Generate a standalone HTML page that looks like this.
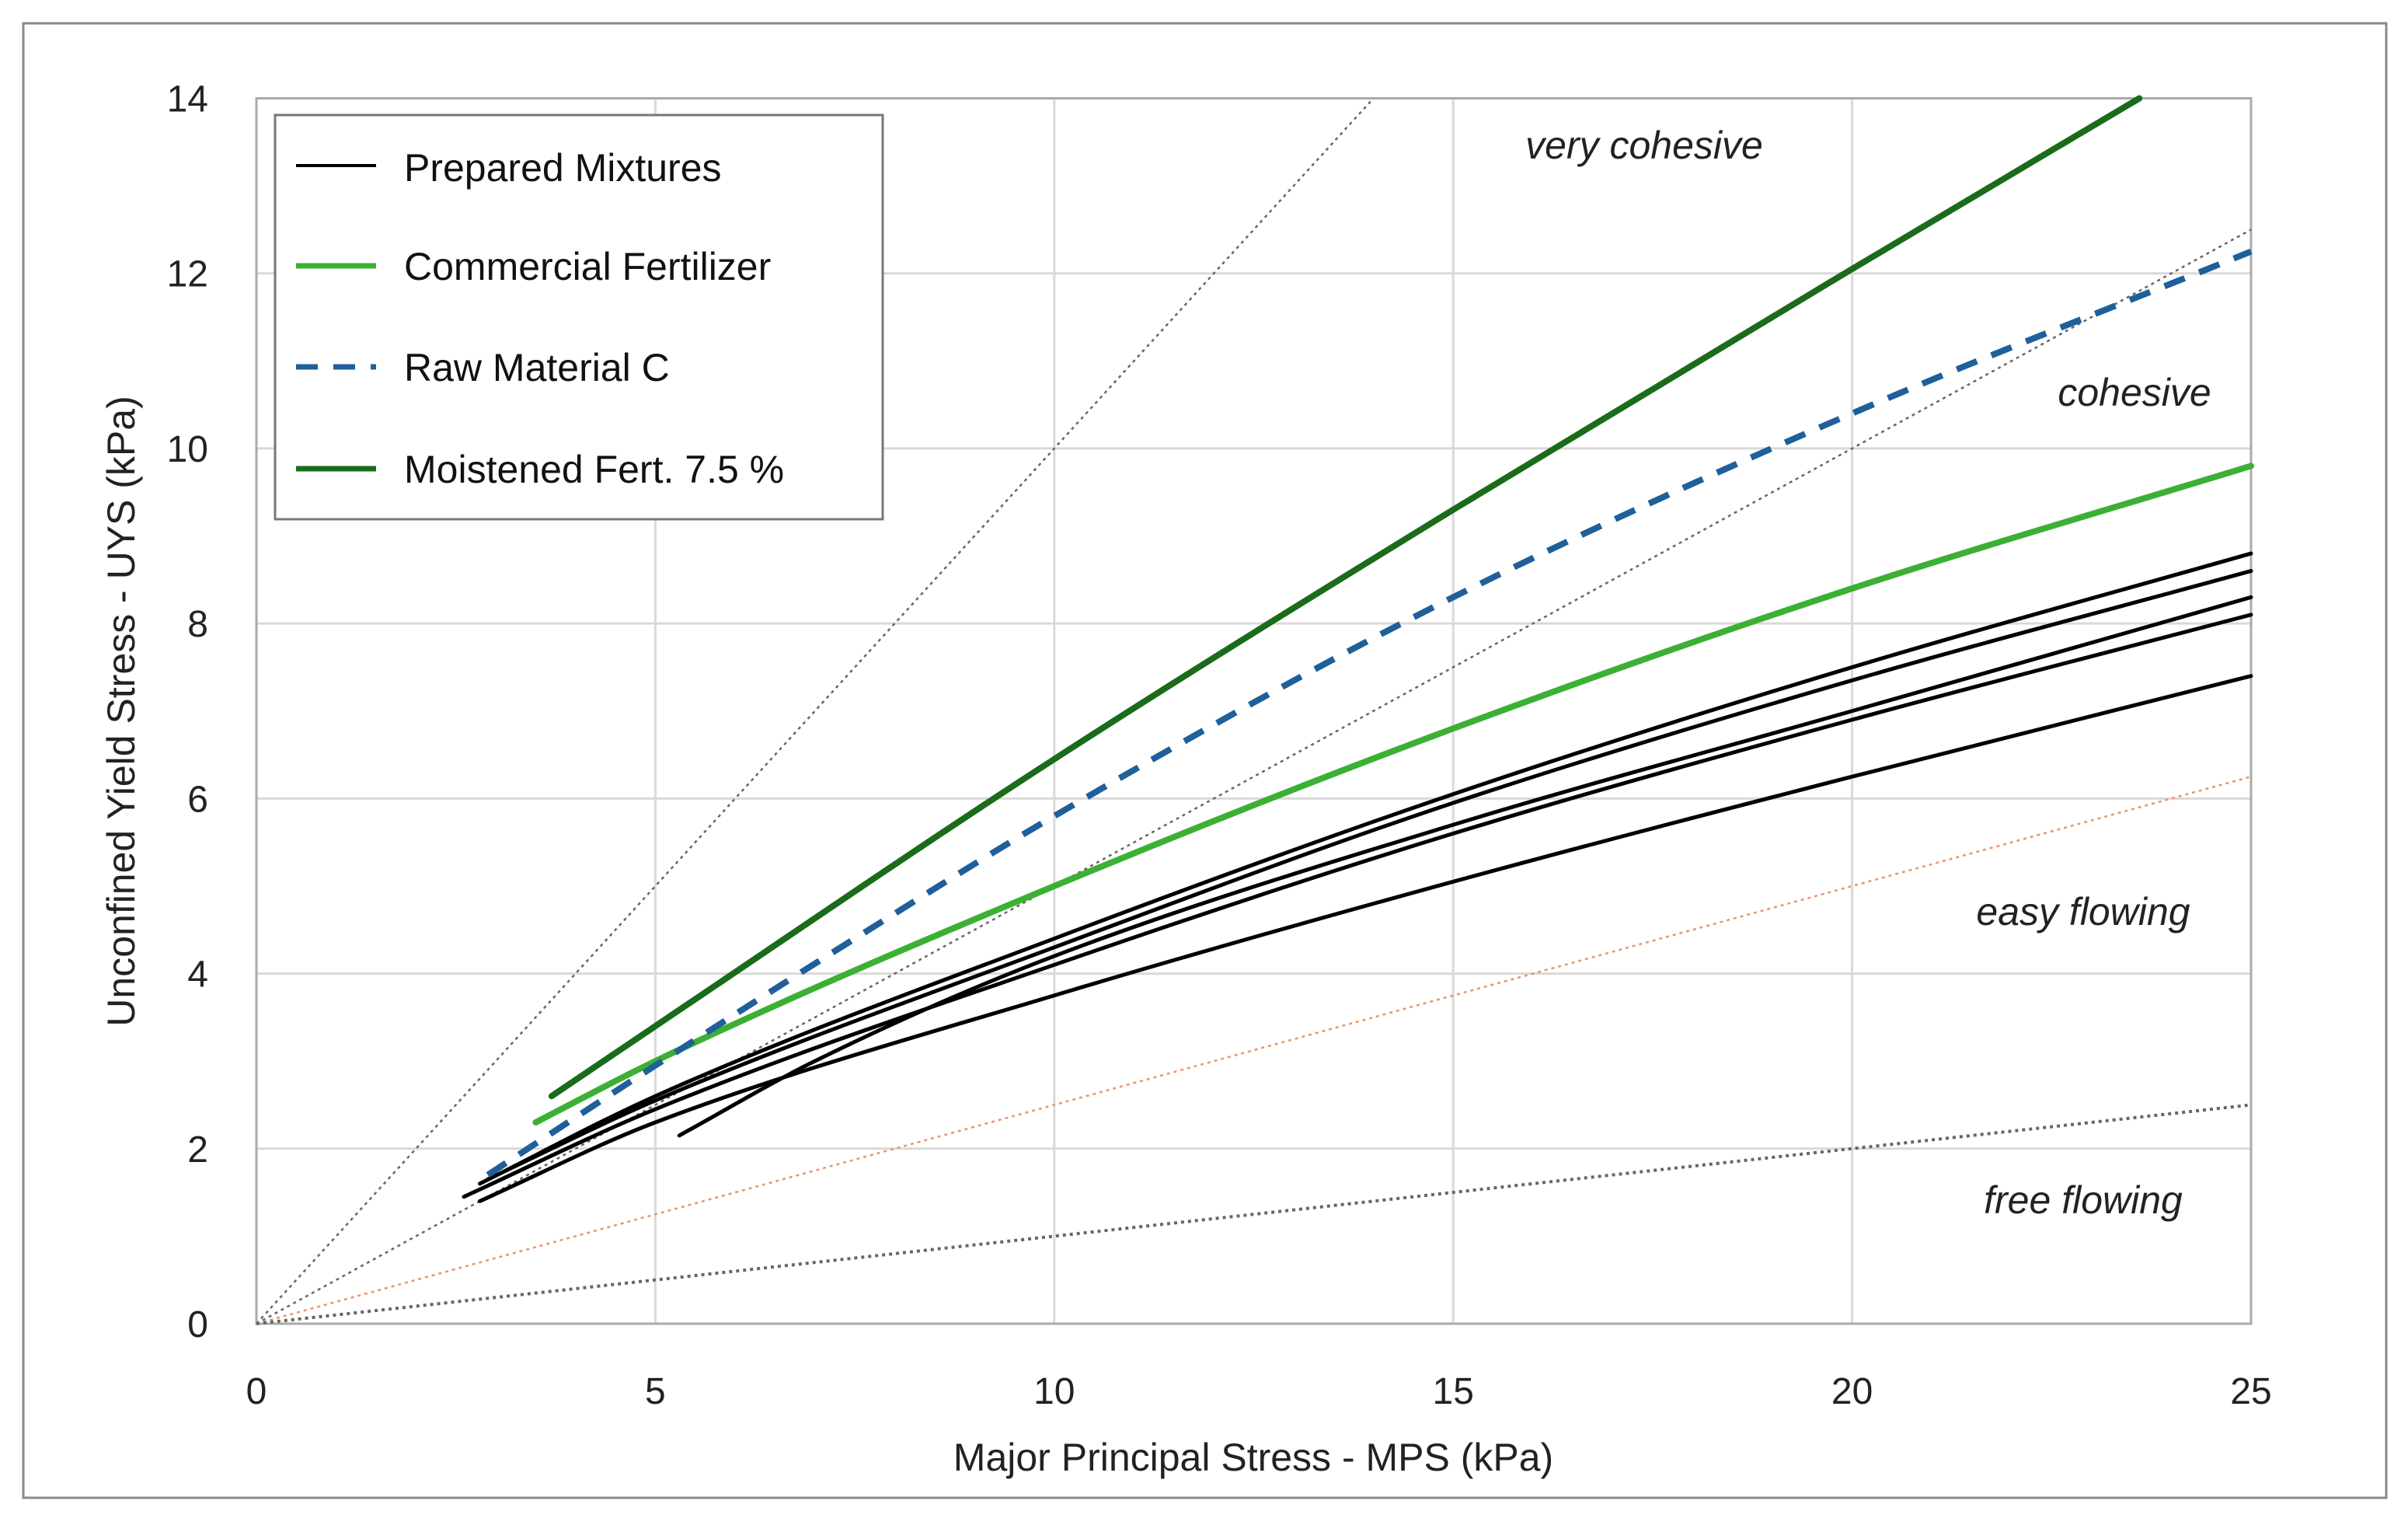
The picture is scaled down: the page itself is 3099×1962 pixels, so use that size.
<!DOCTYPE html>
<html><head><meta charset="utf-8"><style>
html,body{margin:0;padding:0;background:#fff;}
svg{display:block;font-family:"Liberation Sans",sans-serif;}
</style></head><body>
<svg id="chart" width="3099" height="1962" viewBox="0 0 3099 1962">
<rect x="30" y="30" width="3041" height="1897" fill="#fff" stroke="#8a8a8a" stroke-width="3"/>
<g id="grid"></g>
<g id="refs"></g>
<g id="series"></g>
<g id="axes"></g>
<g font-style="italic" font-size="50" fill="#222" text-anchor="middle">
<text x="2116" y="204">very cohesive</text>
<text x="2747" y="522">cohesive</text>
<text x="2681" y="1190">easy flowing</text>
<text x="2681" y="1561">free flowing</text>
</g>
<g>
<rect x="354" y="148" width="782" height="520" fill="#fff" stroke="#777" stroke-width="3"/>
<g><line x1="381" y1="213" x2="484" y2="213" stroke="#000" stroke-width="4"/><text x="520" y="233" font-size="50" fill="#111">Prepared Mixtures</text></g>
<g><line x1="381" y1="342" x2="484" y2="342" stroke="#3cb034" stroke-width="7"/><text x="520" y="360" font-size="50" fill="#111">Commercial Fertilizer</text></g>
<g><line x1="381" y1="472" x2="484" y2="472" stroke="#1f5f9a" stroke-width="7" stroke-dasharray="28,20"/><text x="520" y="490" font-size="50" fill="#111">Raw Material C</text></g>
<g><line x1="381" y1="603" x2="484" y2="603" stroke="#1a6b1a" stroke-width="7"/><text x="520" y="621" font-size="50" fill="#111">Moistened Fert. 7.5 %</text></g>
</g>
</svg>
<script>
const xTicks=[0,5,10,15,20,25];
const yTicks=[0,2,4,6,8,10,12,14];
const moistX=[3.7,5,10,15,20,23.6];
const moistY=[2.6,3.4,6.45,9.3,12.05,14];
const rawX=[2.9,5,7.5,10,15,20,25];
const rawY=[1.7,2.95,4.4,5.8,8.3,10.4,12.25];
const commX=[3.5,5,10,15,20,25];
const commY=[2.3,3.0,5.0,6.8,8.4,9.8];
const prepAX=[2.8,5,10,15,20,25];
const prepAY=[1.6,2.6,4.4,6.05,7.5,8.8];
const prepBX=[2.9,5,10,15,20,25];
const prepBY=[1.65,2.55,4.3,5.95,7.35,8.6];
const prepCX=[5.3,7,10,15,20,25];
const prepCY=[2.15,3.0,4.2,5.7,7.0,8.3];
const prepDX=[2.6,5,10,15,20,25];
const prepDY=[1.45,2.45,4.1,5.6,6.9,8.1];
const prepEX=[2.8,5,10,15,20,25];
const prepEY=[1.4,2.3,3.75,5.05,6.25,7.4];
const refSlopes=[1,0.5,0.25,0.1];

const X0=330,X1=2897,Y0=1703,Y1=126.5;
const sx=v=>X0+(X1-X0)*v/25;
const sy=v=>Y0-(Y0-Y1)*v/14;
const NS='http://www.w3.org/2000/svg';
function mk(tag,attrs,parent){const e=document.createElementNS(NS,tag);for(const k in attrs)e.setAttribute(k,attrs[k]);parent.appendChild(e);return e;}
const grid=document.getElementById('grid'),axes=document.getElementById('axes'),refs=document.getElementById('refs'),ser=document.getElementById('series');

yTicks.forEach(t=>{
 const l=mk('line',{x1:X0,x2:X1,y1:sy(t),y2:sy(t),stroke:'#d9d9d9','stroke-width':3},grid);
 
 
 const tx=mk('text',{x:268,y:sy(t)+17,'font-size':48,'text-anchor':'end',fill:'#222'},axes);
 tx.textContent=t;
 
 
});
xTicks.forEach(t=>{
 const l=mk('line',{x1:sx(t),x2:sx(t),y1:Y1,y2:Y0,stroke:'#d9d9d9','stroke-width':3},grid);
 
 
 const tx=mk('text',{x:sx(t),y:1806,'font-size':48,'text-anchor':'middle',fill:'#222'},axes);
 tx.textContent=t;
 
 
});
const fr=mk('rect',{x:X0,y:Y1,width:X1-X0,height:Y0-Y1,fill:'none',stroke:'#aaa','stroke-width':3},grid);


const xt=mk('text',{x:1613,y:1892,'font-size':50,'text-anchor':'middle',fill:'#222'},axes);
xt.textContent='Major Principal Stress - MPS (kPa)';


const yt=mk('text',{x:0,y:0,'font-size':50,'text-anchor':'middle',fill:'#222',transform:'translate(173,915) rotate(-90)'},axes);
yt.textContent='Unconfined Yield Stress - UYS (kPa)';



refSlopes.forEach((s,i)=>{
 let xe=25,ye=25*s; if(ye>14){ye=14;xe=14/s;}
 const l=mk('line',{x1:sx(0),y1:sy(0),x2:sx(xe),y2:sy(ye),stroke:i==2?'#e8956a':'#666','stroke-width':i==3?4:2.5,'stroke-dasharray':'4,5'},refs);
 
 
});

function path(xs,ys){
 const n=xs.length,d=[],m=[];
 for(let i=0;i<n-1;i++)d.push((ys[i+1]-ys[i])/(xs[i+1]-xs[i]));
 m[0]=d[0];m[n-1]=d[n-2];
 for(let i=1;i<n-1;i++){
  const h0=xs[i]-xs[i-1],h1=xs[i+1]-xs[i];
  m[i]=(d[i-1]*d[i]<=0)?0:3*(h0+h1)/((2*h1+h0)/d[i-1]+(h1+2*h0)/d[i]);
 }
 let s='M'+sx(xs[0])+','+sy(ys[0]);
 for(let i=0;i<n-1;i++){
  const h=xs[i+1]-xs[i];
  const c1x=xs[i]+h/3,c1y=ys[i]+m[i]*h/3,c2x=xs[i+1]-h/3,c2y=ys[i+1]-m[i+1]*h/3;
  s+=` C${sx(c1x)},${sy(c1y)} ${sx(c2x)},${sy(c2y)} ${sx(xs[i+1])},${sy(ys[i+1])}`;
 }
 return s;
}
function draw(xs,ys,color,w,dash,name){
 const a={d:path(xs,ys),fill:'none',stroke:color,'stroke-width':w,'stroke-linecap':dash?'butt':'round'};
 if(dash)a['stroke-dasharray']=dash;
 const e=mk('path',a,ser);
 
 
}
draw(prepEX,prepEY,'#000',5,null,'prepared-mixture-e');
draw(prepDX,prepDY,'#000',5,null,'prepared-mixture-d');
draw(prepCX,prepCY,'#000',5,null,'prepared-mixture-c');
draw(prepBX,prepBY,'#000',5,null,'prepared-mixture-b');
draw(prepAX,prepAY,'#000',5,null,'prepared-mixture-a');
draw(commX,commY,'#3cb034',8,null,'commercial-fertilizer-line');
draw(rawX,rawY,'#1f5f9a',8,'28,20','raw-material-c-line');
draw(moistX,moistY,'#1a6b1a',8,null,'moistened-fert-line');
</script>
</body></html>
